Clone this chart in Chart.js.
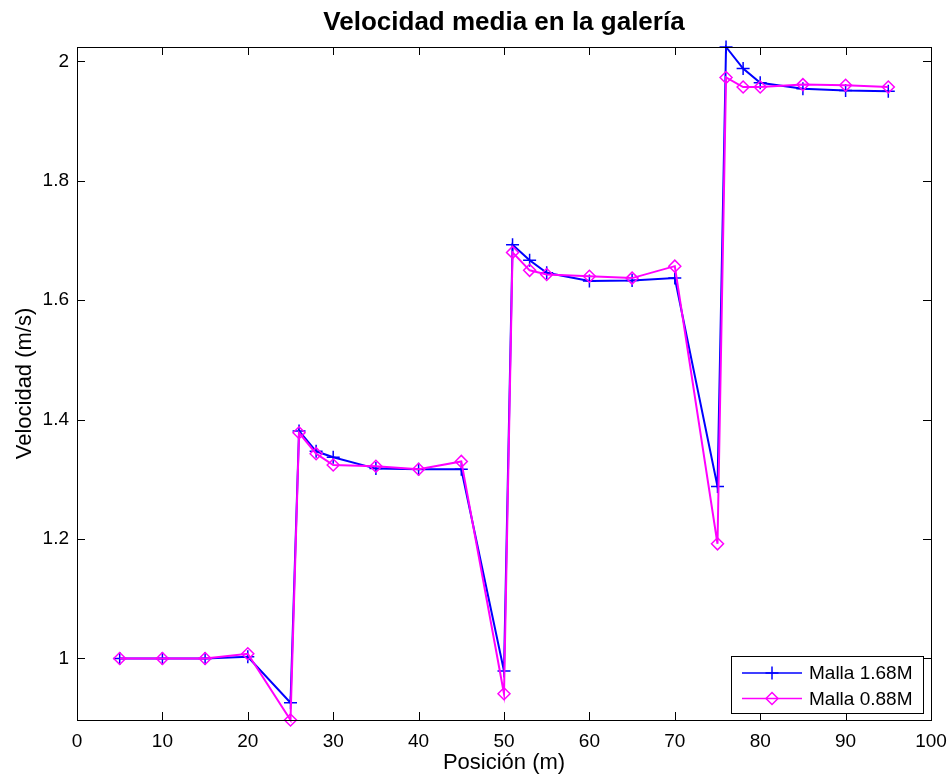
<!DOCTYPE html>
<html>
<head>
<meta charset="utf-8">
<script src="https://cdn.jsdelivr.net/npm/chart.js@4/dist/chart.umd.min.js"></script>
<style>
  body { margin: 0; background: #fff; }
  canvas { display: block; }
</style>
</head>
<body>
<canvas id="velChart" width="951" height="780"></canvas>
<script>
// Datos
const posicion = [5, 10, 15, 20, 25, 26, 28, 30, 35, 40, 45, 50, 51, 53, 55, 60, 65, 70, 75, 76, 78, 80, 85, 90, 95];
const malla168 = [1.000, 1.000, 1.000, 1.003, 0.926, 1.381, 1.347, 1.337, 1.318, 1.317, 1.317, 0.979, 1.693, 1.667, 1.646, 1.632, 1.633, 1.637, 1.288, 2.024, 1.988, 1.964, 1.954, 1.951, 1.950];
const malla088 = [1.000, 1.000, 1.000, 1.008, 0.897, 1.378, 1.343, 1.324, 1.322, 1.317, 1.330, 0.941, 1.680, 1.650, 1.643, 1.640, 1.637, 1.657, 1.192, 1.973, 1.957, 1.957, 1.961, 1.960, 1.957];
const xTicks = [0, 10, 20, 30, 40, 50, 60, 70, 80, 90, 100];
const yTicks = [1, 1.2, 1.4, 1.6, 1.8, 2];
const titulo = 'Velocidad media en la galería';

const FONT = "'Liberation Sans', Arial, Helvetica, sans-serif";

// marcadores estilo matlab para la leyenda
function drawMarker(ctx, style, x, y, r) {
    ctx.beginPath();
    if (style === 'cross') {
        ctx.moveTo(x - r, y); ctx.lineTo(x + r, y);
        ctx.moveTo(x, y - r); ctx.lineTo(x, y + r);
    } else {
        ctx.moveTo(x, y - r); ctx.lineTo(x + r, y);
        ctx.lineTo(x, y + r); ctx.lineTo(x - r, y);
        ctx.closePath();
    }
    ctx.stroke();
}

// titulo centrado sobre los ejes, caja, ticks hacia dentro y leyenda
const matlabAxes = {
    id: 'matlabAxes',
    afterDraw(chart) {
        const ctx = chart.ctx;
        const a = chart.chartArea;
        const xs = chart.scales.x, ys = chart.scales.y;
        const tl = 8;
        ctx.save();

        ctx.fillStyle = '#000';
        ctx.font = 'bold 26px ' + FONT;
        ctx.textAlign = 'center';
        ctx.textBaseline = 'middle';
        ctx.fillText(titulo, (a.left + a.right) / 2, 23);

        ctx.strokeStyle = '#000';
        ctx.lineWidth = 1;
        ctx.beginPath();
        xTicks.forEach(v => {
            const px = Math.round(xs.getPixelForValue(v)) + 0.5;
            ctx.moveTo(px, a.bottom); ctx.lineTo(px, a.bottom - tl);
            ctx.moveTo(px, a.top); ctx.lineTo(px, a.top + tl);
        });
        yTicks.forEach(v => {
            const py = Math.round(ys.getPixelForValue(v)) + 0.5;
            ctx.moveTo(a.left, py); ctx.lineTo(a.left + tl, py);
            ctx.moveTo(a.right, py); ctx.lineTo(a.right - tl, py);
        });
        ctx.stroke();
        ctx.strokeRect(Math.round(a.left) + 0.5, Math.round(a.top) + 0.5,
            Math.round(a.right - a.left), Math.round(a.bottom - a.top));

        // leyenda
        const box = { x: 731, y: 656, w: 192, h: 57 };
        ctx.fillStyle = '#fff';
        ctx.fillRect(box.x, box.y, box.w, box.h);
        ctx.strokeRect(box.x + 0.5, box.y + 0.5, box.w, box.h);
        ctx.font = '19px ' + FONT;
        ctx.textBaseline = 'middle';
        ctx.textAlign = 'left';
        chart.data.datasets.forEach((ds, i) => {
            const yy = 673 + i * 25.5;
            ctx.strokeStyle = ds.borderColor;
            ctx.lineWidth = 1.5;
            ctx.beginPath();
            ctx.moveTo(742, yy); ctx.lineTo(802, yy);
            ctx.stroke();
            drawMarker(ctx, ds.pointStyle, 772, yy, ds.pointRadius);
            ctx.fillStyle = '#000';
            ctx.fillText(ds.label, 809, yy + 1);
        });
        ctx.restore();
    }
};

const ctx = document.getElementById('velChart').getContext('2d');
const chart = new Chart(ctx, {
    type: 'line',
    data: {
        datasets: [
            {
                label: 'Malla 1.68M',
                data: posicion.map((x, i) => ({ x: x, y: malla168[i] })),
                borderColor: '#0000ff',
                borderWidth: 2,
                pointStyle: 'cross',
                pointRadius: 6.5,
                pointBorderColor: '#0000ff',
                pointBorderWidth: 1.5,
                pointBackgroundColor: 'rgba(0,0,0,0)',
                tension: 0,
                clip: false,
                order: 1
            },
            {
                label: 'Malla 0.88M',
                data: posicion.map((x, i) => ({ x: x, y: malla088[i] })),
                borderColor: '#ff00ff',
                borderWidth: 2,
                pointStyle: 'rectRot',
                pointRadius: 6,
                pointBorderColor: '#ff00ff',
                pointBorderWidth: 1.5,
                pointBackgroundColor: 'rgba(0,0,0,0)',
                tension: 0,
                clip: false,
                order: 0
            }
        ]
    },
    options: {
        responsive: false,
        animation: false,
        layout: { padding: { left: 0, right: 20, top: 47, bottom: 0 } },
        plugins: {
            legend: { display: false },
            tooltip: { enabled: false },
            title: { display: false }
        },
        scales: {
            x: {
                type: 'linear',
                min: 0,
                max: 100,
                afterBuildTicks: s => { s.ticks = xTicks.map(v => ({ value: v })); },
                afterFit: s => { s.height = 60; s.paddingLeft = 0; s.paddingRight = 0; },
                grid: { display: false, drawTicks: false },
                border: { display: false },
                ticks: { color: '#000', font: { family: FONT, size: 19 }, padding: 10, maxRotation: 0 },
                title: {
                    display: true,
                    text: 'Posición (m)',
                    color: '#000',
                    font: { family: FONT, size: 22 },
                    padding: { top: 0, bottom: 4 }
                }
            },
            y: {
                type: 'linear',
                min: 0.897,
                max: 2.024,
                afterBuildTicks: s => { s.ticks = yTicks.map(v => ({ value: v })); },
                afterFit: s => { s.width = 77; s.paddingTop = 0; s.paddingBottom = 0; },
                grid: { display: false, drawTicks: false },
                border: { display: false },
                ticks: {
                    color: '#000',
                    font: { family: FONT, size: 19 },
                    padding: 8,
                    callback: v => String(Math.round(v * 10) / 10)
                },
                title: {
                    display: true,
                    text: 'Velocidad (m/s)',
                    color: '#000',
                    font: { family: FONT, size: 22 },
                    padding: { top: 12, bottom: 0 }
                }
            }
        }
    },
    plugins: [matlabAxes]
});
</script>
</body>
</html>
